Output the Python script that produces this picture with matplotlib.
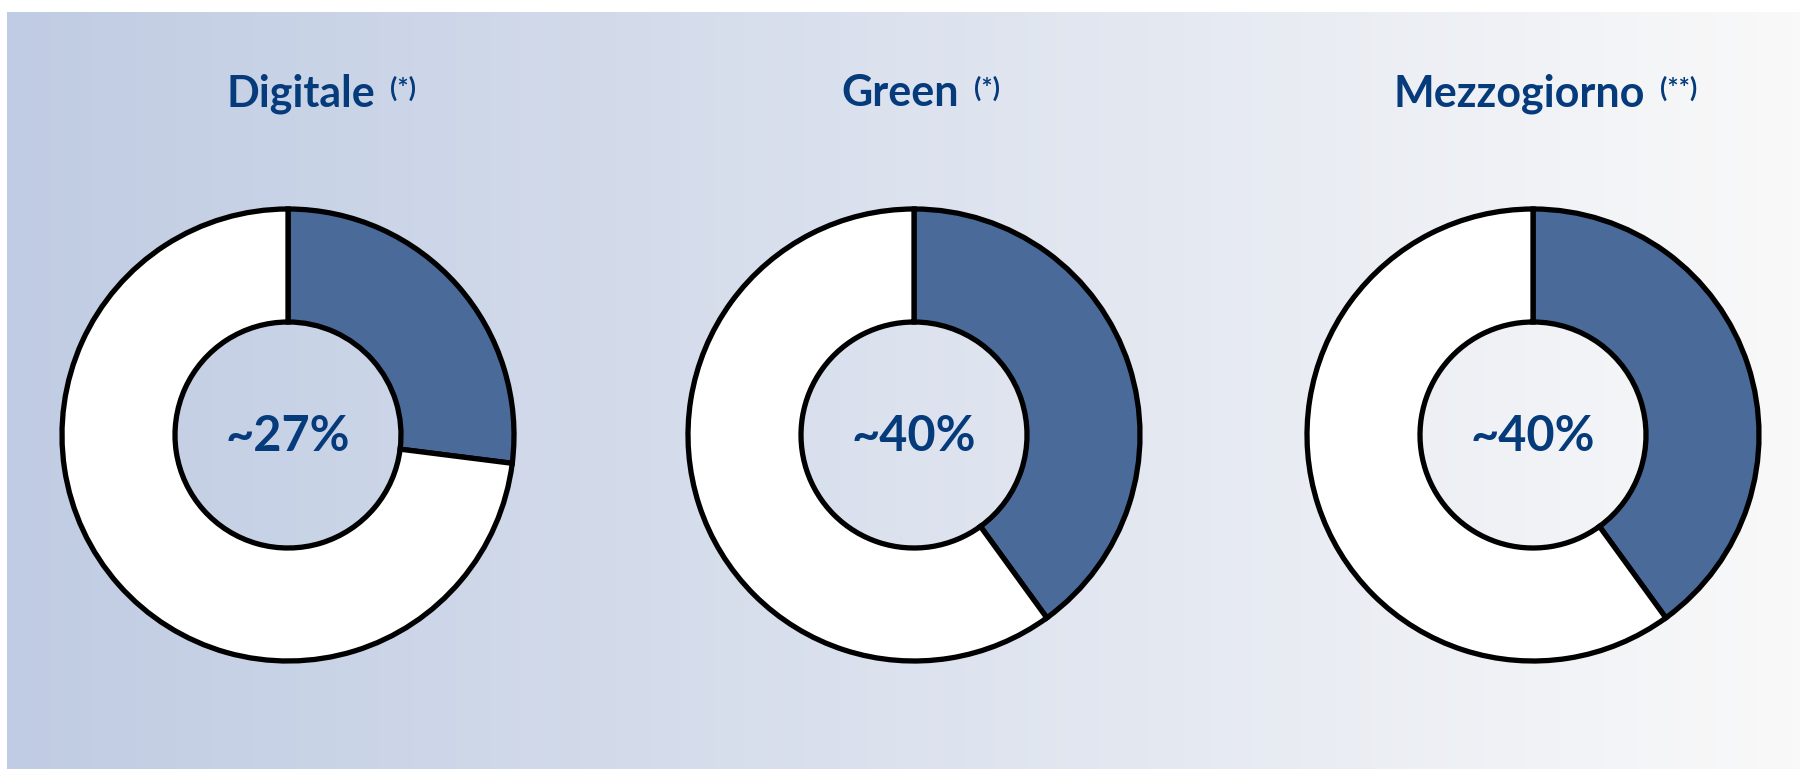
import numpy as np
import matplotlib
matplotlib.use("Agg")
import matplotlib.pyplot as plt
from matplotlib.colors import LinearSegmentedColormap

# Shares of resources by PNRR objective
categories = ["Digitale", "Green", "Mezzogiorno"]
footnotes = ["(*)", "(*)", "(**)"]
shares = [27, 40, 40]
labels = ["~27%", "~40%", "~40%"]

W, H, DPI = 1800, 769, 100
TEXT = "#053B7B"
FILL = "#4A6A99"
FONT = "Lato"

fig = plt.figure(figsize=(W / DPI, H / DPI), dpi=DPI)
fig.patch.set_facecolor("white")

# horizontal gradient panel behind the charts
bg = fig.add_axes([7 / W, 0, 1 - 7 / W, (H - 12) / H], zorder=0)
cmap = LinearSegmentedColormap.from_list("panel", ["#C0CCE3", "#DCE2EE", "#F9F9F9"])
bg.imshow(np.linspace(0, 1, 512)[None, :], aspect="auto", cmap=cmap,
          extent=[0, 1, 0, 1], interpolation="bicubic")
bg.set_axis_off()

centers_x = [288, 914, 1533]
center_y = 435
R = 226
title_x = [301, 900, 1519]
title_base = 106

renderer = fig.canvas.get_renderer()

for i, (cat, note, share, lab) in enumerate(zip(categories, footnotes, shares, labels)):
    cx = centers_x[i]
    ax = fig.add_axes([(cx - R) / W, (H - center_y - R) / H, 2 * R / W, 2 * R / H], zorder=2)
    ax.set_facecolor("none")
    ax.pie([share, 100 - share], colors=[FILL, "white"], startangle=90,
           counterclock=False, radius=1.0,
           wedgeprops=dict(width=0.5, edgecolor="black", linewidth=3.8))
    ax.set_xlim(-1.0, 1.0)
    ax.set_ylim(-1.0, 1.0)
    ax.set_aspect("equal")
    ax.set_axis_off()
    for art in ax.patches:
        art.set_clip_on(False)
    ax.text(0, -0.07, lab, ha="center", va="baseline", fontsize=35,
            fontweight="bold", color=TEXT, family=FONT)

    t = fig.text(title_x[i] / W, (H - title_base) / H, cat, ha="center",
                 va="baseline", fontsize=31, fontweight="bold", color=TEXT,
                 family=FONT, zorder=3)
    bb = t.get_window_extent(renderer)
    fig.text((bb.x1 + 15) / W, (H - title_base + 9) / H, note, ha="left",
             va="baseline", fontsize=19, fontweight="bold", color=TEXT,
             family=FONT, zorder=3)

fig.savefig("out.png", dpi=DPI, facecolor=fig.get_facecolor())
